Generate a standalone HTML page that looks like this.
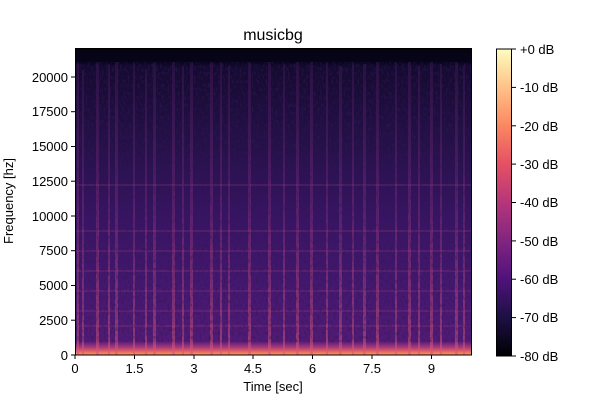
<!DOCTYPE html>
<html><head><meta charset="utf-8"><style>
body{margin:0;background:#fff;width:600px;height:400px;overflow:hidden}
svg text{font-family:"Liberation Sans","DejaVu Sans",sans-serif;font-size:13px;fill:#000}
</style></head><body>
<svg width="600" height="400" viewBox="0 0 600 400">
<defs>
<linearGradient id="bg" x1="0" y1="0" x2="0" y2="1">
<stop offset="0" stop-color="#050312"/>
<stop offset="0.045" stop-color="#07041a"/>
<stop offset="0.06" stop-color="#140a30"/>
<stop offset="0.3" stop-color="#241048"/>
<stop offset="0.55" stop-color="#381464"/>
<stop offset="0.8" stop-color="#461872"/>
<stop offset="0.955" stop-color="#521a76"/>
<stop offset="0.975" stop-color="#a83a7a"/>
<stop offset="0.99" stop-color="#ec6a5c"/>
<stop offset="1" stop-color="#f7a066"/>
</linearGradient>
<linearGradient id="st" x1="0" y1="0" x2="0" y2="1">
<stop offset="0" stop-color="#7a2888" stop-opacity="0.2"/>
<stop offset="0.5" stop-color="#9a3682" stop-opacity="0.35"/>
<stop offset="1" stop-color="#d8587a" stop-opacity="0.55"/>
</linearGradient>
<linearGradient id="cb" x1="0" y1="1" x2="0" y2="0">
<stop offset="0" stop-color="#000004"/>
<stop offset="0.125" stop-color="#1c1044"/>
<stop offset="0.25" stop-color="#4f127b"/>
<stop offset="0.375" stop-color="#812581"/>
<stop offset="0.5" stop-color="#b5367a"/>
<stop offset="0.625" stop-color="#e55064"/>
<stop offset="0.75" stop-color="#fb8761"/>
<stop offset="0.875" stop-color="#fec287"/>
<stop offset="1" stop-color="#fcfdbf"/>
</linearGradient>
<filter id="nz" x="0" y="0" width="1" height="1">
<feTurbulence type="fractalNoise" baseFrequency="0.5 0.25" numOctaves="2" seed="3"/>
<feColorMatrix values="0 0 0 0 0.03  0 0 0 0 0.01  0 0 0 0 0.08  0 0 0 -2.4 1.3"/>
</filter>
<clipPath id="ax"><rect x="75" y="62" width="397" height="293"/></clipPath>
</defs>
<rect x="75" y="48" width="397" height="307" fill="url(#bg)"/>
<g clip-path="url(#ax)" fill="url(#st)">
<rect x="77" y="62" width="2" height="293"/><rect x="82" y="70" width="2" height="285"/>
<rect x="96" y="62" width="3" height="293"/><rect x="108" y="64" width="2" height="291"/>
<rect x="115" y="62" width="3" height="293"/><rect x="133" y="62" width="2" height="293"/>
<rect x="145" y="70" width="2" height="285"/><rect x="153" y="62" width="3" height="293"/>
<rect x="172" y="62" width="3" height="293"/><rect x="182" y="66" width="2" height="289"/>
<rect x="190" y="62" width="3" height="293"/><rect x="210" y="62" width="3" height="293"/>
<rect x="220" y="62" width="2" height="293"/><rect x="228" y="66" width="2" height="289"/>
<rect x="248" y="62" width="3" height="293"/><rect x="268" y="62" width="3" height="293"/>
<rect x="283" y="64" width="2" height="291"/><rect x="296" y="62" width="3" height="293"/>
<rect x="310" y="62" width="3" height="293"/><rect x="326" y="62" width="2" height="293"/>
<rect x="339" y="66" width="3" height="289"/><rect x="352" y="62" width="2" height="293"/>
<rect x="363" y="64" width="3" height="291"/><rect x="376" y="62" width="3" height="293"/>
<rect x="395" y="62" width="2" height="293"/><rect x="408" y="62" width="3" height="293"/>
<rect x="418" y="66" width="2" height="289"/><rect x="430" y="62" width="3" height="293"/>
<rect x="440" y="64" width="2" height="291"/><rect x="455" y="62" width="3" height="293"/>
<rect x="463" y="66" width="2" height="289"/>
</g>
<g fill="#b04080" opacity="0.22">
<rect x="75" y="184" width="397" height="2"/><rect x="75" y="230" width="397" height="2"/>
<rect x="75" y="250" width="397" height="2"/><rect x="75" y="270" width="397" height="2"/>
<rect x="75" y="290" width="397" height="2"/><rect x="75" y="310" width="397" height="2"/>
<rect x="75" y="325" width="397" height="2"/>
</g>
<rect x="75" y="62" width="397" height="280" filter="url(#nz)" opacity="0.65"/>
<rect x="75.5" y="48.5" width="396" height="306.5" fill="none" stroke="#000" stroke-width="1"/>
<text x="273" y="40" text-anchor="middle" style="font-size:16px">musicbg</text>
<g stroke="#000">
<line x1="75" y1="355" x2="75" y2="359"/><line x1="134.5" y1="355" x2="134.5" y2="359"/>
<line x1="194" y1="355" x2="194" y2="359"/><line x1="253" y1="355" x2="253" y2="359"/>
<line x1="312.5" y1="355" x2="312.5" y2="359"/><line x1="372" y1="355" x2="372" y2="359"/>
<line x1="431.5" y1="355" x2="431.5" y2="359"/>
<line x1="71" y1="355" x2="75" y2="355"/><line x1="71" y1="320.2" x2="75" y2="320.2"/>
<line x1="71" y1="285.5" x2="75" y2="285.5"/><line x1="71" y1="250.7" x2="75" y2="250.7"/>
<line x1="71" y1="216" x2="75" y2="216"/><line x1="71" y1="181.2" x2="75" y2="181.2"/>
<line x1="71" y1="146.5" x2="75" y2="146.5"/><line x1="71" y1="111.7" x2="75" y2="111.7"/>
<line x1="71" y1="77" x2="75" y2="77"/>
</g>
<g text-anchor="middle">
<text x="75" y="373">0</text><text x="134.5" y="373">1.5</text><text x="194" y="373">3</text>
<text x="253" y="373">4.5</text><text x="312.5" y="373">6</text><text x="372" y="373">7.5</text>
<text x="431.5" y="373">9</text>
</g>
<text x="273" y="391" text-anchor="middle">Time [sec]</text>
<g text-anchor="end">
<text x="68" y="360">0</text><text x="68" y="325">2500</text><text x="68" y="290">5000</text>
<text x="68" y="255">7500</text><text x="68" y="221">10000</text><text x="68" y="186">12500</text>
<text x="68" y="151">15000</text><text x="68" y="116">17500</text><text x="68" y="82">20000</text>
</g>
<text transform="translate(13,201) rotate(-90)" text-anchor="middle">Frequency [hz]</text>
<rect x="496.5" y="49" width="15" height="307" fill="url(#cb)" stroke="#000" stroke-width="1"/>
<g stroke="#000">
<line x1="512" y1="49" x2="516" y2="49"/><line x1="512" y1="87.4" x2="516" y2="87.4"/>
<line x1="512" y1="125.8" x2="516" y2="125.8"/><line x1="512" y1="164.1" x2="516" y2="164.1"/>
<line x1="512" y1="202.5" x2="516" y2="202.5"/><line x1="512" y1="240.9" x2="516" y2="240.9"/>
<line x1="512" y1="279.2" x2="516" y2="279.2"/><line x1="512" y1="317.6" x2="516" y2="317.6"/>
<line x1="512" y1="356" x2="516" y2="356"/>
</g>
<g>
<text x="520" y="54">+0 dB</text><text x="520" y="92">-10 dB</text><text x="520" y="131">-20 dB</text>
<text x="520" y="169">-30 dB</text><text x="520" y="207">-40 dB</text><text x="520" y="246">-50 dB</text>
<text x="520" y="284">-60 dB</text><text x="520" y="322">-70 dB</text><text x="520" y="361">-80 dB</text>
</g>
</svg>
</body></html>
